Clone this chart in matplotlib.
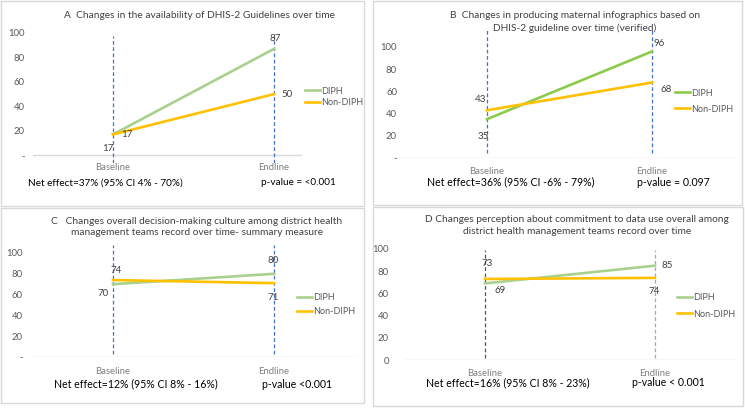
import matplotlib.pyplot as plt
from matplotlib.patches import Rectangle

plt.rcParams['font.family'] = ['Lato', 'DejaVu Sans']

W, H = 745, 408

# data
times = ['Baseline', 'Endline']
series = ['DIPH', 'Non-DIPH']
diph_a = [17, 87]
non_a = [17, 50]
diph_b = [35, 96]
non_b = [43, 68]
diph_c = [70, 80]
non_c = [74, 71]
diph_d = [69, 85]
non_d = [73, 74]
yticks = [0, 20, 40, 60, 80, 100]

titles = [
    'A  Changes in the availability of DHIS-2 Guidelines over time',
    'B  Changes in producing maternal infographics based on\nDHIS-2 guideline over time (verified)',
    'C   Changes overall decision-making culture among district health\nmanagement teams record over time- summary measure',
    'D Changes perception about commitment to data use overall among\ndistrict health management teams record over time',
]
net_text = [
    'Net effect=37% (95% CI 4% - 70%)',
    'Net effect=36% (95% CI -6% - 79%)',
    'Net effect=12% (95% CI 8% - 16%)',
    'Net effect=16% (95% CI 8% - 23%)',
]
p_text = ['p-value = <0.001', 'p-value = 0.097', 'p-value <0.001', 'p-value < 0.001']
zero_label = ['-', '-', '-', '0']

# layout in pixels (top-left origin)
panels = [
    dict(box=(1, 1, 364, 206), left=33, right=302, base=113, end=274, y0=155, y100=30,
         top=33, bottom=163, tickr=25, xpad=0, green='#A9D18E', title=(200, 15), tls=1.3,
         net=(28, 183, 7.2), pv=(261, 183), leg=(305, 92, 0.33),
         off=[[(-5, 14), (1, -10)], [(14, 0), (13, 0)]],
         dash=('#4472C4', '#4472C4'), data=(diph_a, non_a)),
    dict(box=(373, 1, 742, 205), left=389, right=737, base=487, end=652, y0=158, y100=47,
         top=28, bottom=153, tickr=397, xpad=9, green='#8CCB4A', title=(575, 22), tls=1.45,
         net=(427, 182, 7.6), pv=(637, 182), leg=(675, 94, 0.78),
         off=[[(-4, 17), (7, -8)], [(-6, -11), (14, 7)]],
         dash=('#4472C4', '#4472C4'), data=(diph_b, non_b)),
    dict(box=(1, 208, 364, 403), left=33, right=357, base=113, end=274, y0=357, y100=253,
         top=245, bottom=354, tickr=23, xpad=10, green='#A9D18E', title=(197, 227), tls=1.25,
         net=(54, 384, 7.6), pv=(262, 384), leg=(297, 299, 0.55),
         off=[[(-10, 9), (-1, -13)], [(3, -10), (-1, 14)]],
         dash=('#4472C4', '#4472C4'), data=(diph_c, non_c)),
    dict(box=(373, 207, 743, 406), left=404, right=737, base=485, end=655, y0=360, y100=248,
         top=249, bottom=358, tickr=389, xpad=9, green='#A9D18E', title=(577, 225.5), tls=1.35,
         net=(426, 383, 7.6), pv=(632, 383), leg=(677, 299, 0.78),
         off=[[(15, 7), (12, 0)], [(2, -15), (-1, 14)]],
         dash=('#44546A', '#8FAADC'), data=(diph_d, non_d)),
]

fig = plt.figure(figsize=(W / 100, H / 100), dpi=100)


def fx(px):
    return px / W


def fy(py):
    return 1 - py / H


for i, p in enumerate(panels):
    x0, y0b, x1, y1b = p['box']
    fig.add_artist(Rectangle((fx(x0), fy(y1b)), fx(x1 - x0), (y1b - y0b) / H,
                             transform=fig.transFigure, fill=False,
                             edgecolor='#d9d9d9', lw=1))

    bottom = max(p['bottom'], p['y0'])
    ax = fig.add_axes([fx(p['left']), fy(bottom), fx(p['right'] - p['left']),
                       (bottom - p['top']) / H])
    sx = p['end'] - p['base']
    ax.set_xlim((p['left'] - p['base']) / sx, (p['right'] - p['base']) / sx)
    ppu = (p['y0'] - p['y100']) / 100
    ax.set_ylim((p['y0'] - bottom) / ppu, (p['y0'] - p['top']) / ppu)

    for s in ax.spines.values():
        s.set_visible(False)
    ax.axhline(0, color='#d9d9d9', lw=1, zorder=1)

    # dashed time markers
    yb = (p['y0'] - p['bottom']) / ppu
    yt = (p['y0'] - p['top']) / ppu
    for k in range(2):
        ax.plot([k, k], [yb, yt], color=p['dash'][k], lw=0.9, ls=(0, (3, 2)), zorder=2)

    d, n = p['data']
    ax.plot([0, 1], d, color=p['green'], lw=1.9, label=series[0], zorder=3)
    ax.plot([0, 1], n, color='#FFC000', lw=1.9, label=series[1], zorder=3)

    for j, vals in enumerate((d, n)):
        for k in range(2):
            dx, dy = p['off'][j][k]
            ax.annotate(str(vals[k]), (k, vals[k]), xytext=(dx, -dy),
                        textcoords='offset pixels', ha='center', va='center',
                        fontsize=7, color='#404040')

    ax.set_yticks(yticks, [zero_label[i]] + [str(v) for v in yticks[1:]])
    ax.tick_params(axis='y', length=0, labelsize=6.8, labelcolor='#595959',
                   pad=(p['left'] - p['tickr']) * 0.72)
    ax.set_xticks([0, 1], times)
    ax.tick_params(axis='x', length=0, labelsize=6.8, labelcolor='#7f7f7f',
                   pad=p['xpad'] * 0.72)
    ax.patch.set_alpha(0)

    lx, ly, ls = p['leg']
    leg = ax.legend(loc='upper left', bbox_to_anchor=(fx(lx), fy(ly - 5.5)),
                    bbox_transform=fig.transFigure, frameon=False, fontsize=6.5,
                    handlelength=1.7, handletextpad=0.1, labelspacing=ls,
                    borderpad=0, borderaxespad=0)
    for t in leg.get_texts():
        t.set_color('#595959')

    fig.text(fx(p['title'][0]), fy(p['title'][1]), titles[i], ha='center', va='center',
             fontsize=7.3, color='#404040', linespacing=p['tls'])
    fig.text(fx(p['net'][0]), fy(p['net'][1]), net_text[i], ha='left', va='center',
             fontsize=p['net'][2], color='#000000')
    fig.text(fx(p['pv'][0]), fy(p['pv'][1]), p_text[i], ha='left', va='center',
             fontsize=p['net'][2], color='#000000')

fig.savefig('out.png', dpi=100)
